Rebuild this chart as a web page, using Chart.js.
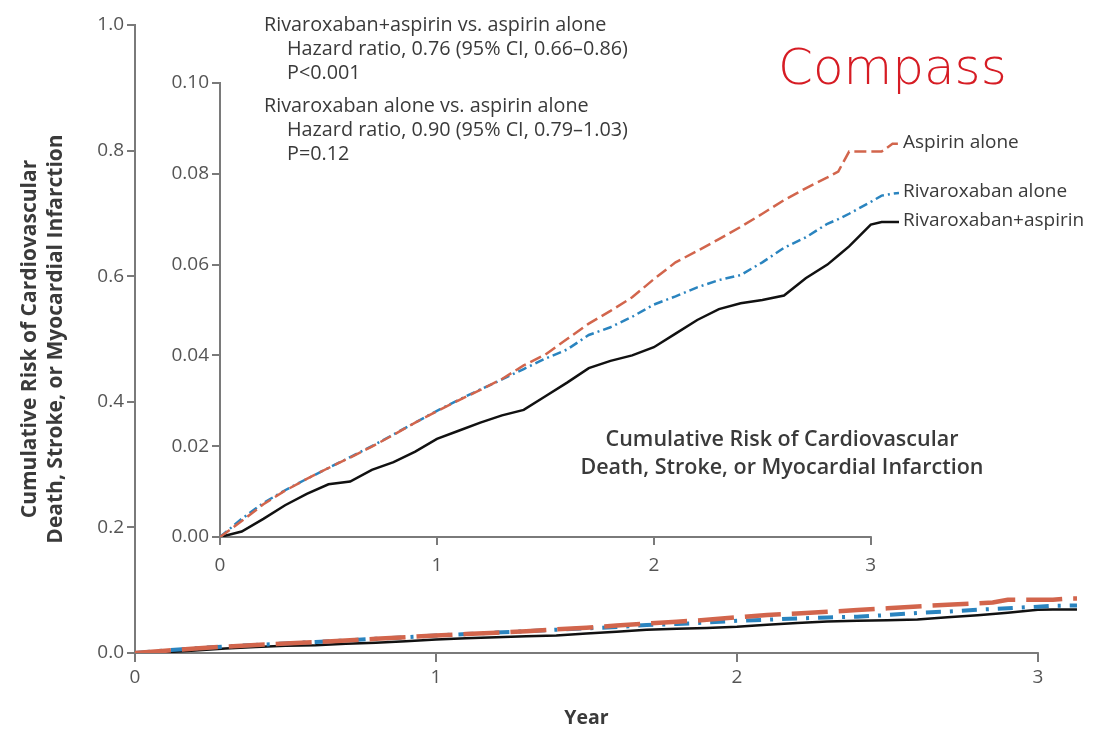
<!DOCTYPE html>
<html>
<head>
<meta charset="utf-8">
<script src="https://cdn.jsdelivr.net/npm/chart.js@4.4.0/dist/chart.umd.min.js"></script>
<style>
  html, body { margin: 0; padding: 0; background: #fff; }
  #wrap { position: relative; width: 1094px; height: 732px; }
  canvas { position: absolute; }
  #outer { left: 0; top: 0; }
  #inset { left: 140px; top: 60px; }
</style>
</head>
<body>
<div id="wrap">
  <canvas id="outer" width="1094" height="732"></canvas>
  <canvas id="inset" width="954" height="520"></canvas>
</div>
<script>
// Data (years since randomization, cumulative risk)
const years = [0, 0.1, 0.2, 0.3, 0.4, 0.5, 0.6, 0.7, 0.8, 0.9, 1.0, 1.1, 1.2, 1.3, 1.4, 1.5, 1.6, 1.7,
  1.8, 1.9, 2.0, 2.1, 2.2, 2.3, 2.4, 2.5, 2.6, 2.7, 2.8, 2.85, 2.9, 3.0, 3.05, 3.1, 3.13];
const aspirinAlone = [0, 0.0035, 0.0072, 0.0102, 0.0128, 0.0152, 0.0175, 0.0199, 0.0225, 0.0252,
  0.0277, 0.0301, 0.0324, 0.0348, 0.0378, 0.0402, 0.0436, 0.0470, 0.0498, 0.0528, 0.0568, 0.0605,
  0.0630, 0.0656, 0.0683, 0.0712, 0.0742, 0.0768, 0.0792, 0.0805, 0.0849, 0.0849, 0.0849, 0.0866, 0.0866];
const rivaroxabanAlone = [0, 0.0040, 0.0075, 0.0103, 0.0128, 0.0152, 0.0176, 0.0200, 0.0226, 0.0252,
  0.0278, 0.0302, 0.0325, 0.0347, 0.0370, 0.0393, 0.0413, 0.0445, 0.0462, 0.0485, 0.0512, 0.0530,
  0.0550, 0.0566, 0.0577, 0.0605, 0.0637, 0.0660, 0.0690, 0.0700, 0.0712, 0.0738, 0.0752, 0.0756, 0.0758];
const rivaroxabanAspirin = [0, 0.0012, 0.0040, 0.0070, 0.0095, 0.0116, 0.0122, 0.0148, 0.0165, 0.0188,
  0.0216, 0.0234, 0.0252, 0.0268, 0.0280, 0.0310, 0.0340, 0.0372, 0.0388, 0.0400, 0.0418, 0.0448,
  0.0478, 0.0502, 0.0515, 0.0522, 0.0532, 0.0570, 0.0600, 0.0620, 0.0640, 0.0688, 0.0694, 0.0694, 0.0694];
const seriesLabels = ["Aspirin alone", "Rivaroxaban alone", "Rivaroxaban+aspirin"];
const outerYTicks = [0, 0.2, 0.4, 0.6, 0.8, 1.0];
const insetYTicks = [0, 0.02, 0.04, 0.06, 0.08, 0.10];
const yearTicks = [0, 1, 2, 3];
const hrText = [
  "Rivaroxaban+aspirin vs. aspirin alone",
  "Hazard ratio, 0.76 (95% CI, 0.66\u20130.86)",
  "P<0.001",
  "Rivaroxaban alone vs. aspirin alone",
  "Hazard ratio, 0.90 (95% CI, 0.79\u20131.03)",
  "P=0.12"
];
const yTitle = ["Cumulative Risk of Cardiovascular", "Death, Stroke, or Myocardial Infarction"];

// Styles
const FONT = "'Open Sans', Lato, sans-serif";
const RED = "#d2654c";
const BLUE = "#2a84bf";
const BLACK = "#111111";
const AXIS = "#7a7a7a";
const TICK = "#555555";
const TEXT = "#3a3a3a";

function points(vals) {
  return years.map((x, i) => ({ x: x, y: vals[i] }));
}

function makeDatasets(widths, dashes) {
  const vals = [aspirinAlone, rivaroxabanAlone, rivaroxabanAspirin];
  const colors = [RED, BLUE, BLACK];
  return vals.map((v, i) => ({
    label: seriesLabels[i],
    data: points(v),
    borderColor: colors[i],
    borderWidth: widths[i],
    borderDash: dashes[i],
    pointRadius: 0,
    fill: false,
    tension: 0,
  }));
}

// draws the x axis line only from 0 to 3 years
function drawXAxisLine(chart) {
  const ctx = chart.ctx;
  const xs = chart.scales.x;
  const y = chart.chartArea.bottom;
  ctx.save();
  ctx.strokeStyle = AXIS;
  ctx.lineWidth = 2;
  ctx.beginPath();
  ctx.moveTo(xs.getPixelForValue(0) - 1, y);
  ctx.lineTo(xs.getPixelForValue(3) + 1, y);
  ctx.stroke();
  ctx.restore();
}

const outerDecor = {
  id: "outerDecor",
  beforeDatasetsDraw(chart) {
    drawXAxisLine(chart);
  },
  afterDraw(chart) {
    const ctx = chart.ctx;
    const xs = chart.scales.x;
    ctx.save();
    // x axis title
    ctx.fillStyle = TEXT;
    ctx.font = "bold 19.5px " + FONT;
    ctx.textAlign = "center";
    ctx.textBaseline = "middle";
    ctx.fillText("Year", (xs.getPixelForValue(0) + xs.getPixelForValue(3)) / 2, 718);
    // hazard ratio block
    ctx.font = "19.8px " + FONT;
    ctx.textAlign = "left";
    const lineY = [25, 49, 73, 106, 130, 154];
    hrText.forEach((t, i) => {
      const indent = (i === 0 || i === 3) ? 264 : 287;
      ctx.fillText(t, indent, lineY[i]);
    });
    // slide title
    ctx.fillStyle = "#d61c24";
    ctx.font = "200 50px 'DejaVu Sans', " + FONT;
    ctx.textBaseline = "alphabetic";
    ctx.fillText("Compass", 778, 84);
    ctx.restore();
  }
};

new Chart(document.getElementById("outer"), {
  type: "line",
  data: { datasets: makeDatasets([4.5, 4, 2.5], [[36, 11], [15, 9, 3, 9], []]) },
  options: {
    responsive: false,
    animation: false,
    layout: { padding: { top: 25, right: 11, left: 0, bottom: 0 } },
    plugins: { legend: { display: false }, tooltip: { enabled: false } },
    scales: {
      x: {
        type: "linear",
        min: 0,
        max: 3.15,
        afterFit: (s) => { s.height = 79; },
        afterBuildTicks: (s) => { s.ticks = yearTicks.map((v) => ({ value: v })); },
        border: { display: false },
        grid: { drawOnChartArea: false, tickLength: 9, color: AXIS, lineWidth: 2 },
        ticks: { padding: 4, color: TICK, font: { family: FONT, size: 19 } },
      },
      y: {
        min: 0,
        max: 1,
        afterFit: (s) => { s.width = 135; },
        afterBuildTicks: (s) => { s.ticks = outerYTicks.map((v) => ({ value: v })); },
        border: { color: AXIS, width: 2 },
        grid: { drawOnChartArea: false, tickLength: 8, color: AXIS, lineWidth: 2 },
        ticks: {
          padding: 3,
          color: TICK,
          font: { family: FONT, size: 19 },
          callback: (v) => v.toFixed(1),
        },
        title: {
          display: true,
          text: yTitle,
          color: TEXT,
          font: { family: FONT, size: 21, weight: "bold", lineHeight: 1.25 },
          padding: { top: 17, bottom: 0 },
        },
      },
    },
  },
  plugins: [outerDecor],
});

const insetDecor = {
  id: "insetDecor",
  beforeDatasetsDraw(chart) {
    drawXAxisLine(chart);
  },
  afterDraw(chart) {
    const ctx = chart.ctx;
    ctx.save();
    ctx.fillStyle = TEXT;
    ctx.textBaseline = "middle";
    // curve labels at the end of each line
    ctx.font = "19px " + FONT;
    ctx.textAlign = "left";
    chart.data.datasets.forEach((ds, i) => {
      const pts = chart.getDatasetMeta(i).data;
      const last = pts[pts.length - 1];
      ctx.fillText(ds.label, last.x + 4, last.y - 1);
    });
    // inset title
    ctx.font = "600 21.5px " + FONT;
    ctx.textAlign = "center";
    ctx.fillText(yTitle[0], 642, 380);
    ctx.fillText(yTitle[1], 642, 408);
    ctx.restore();
  }
};

new Chart(document.getElementById("inset"), {
  type: "line",
  data: { datasets: makeDatasets([2.5, 2.5, 2.5], [[12, 5], [9, 4, 2, 4], []]) },
  options: {
    responsive: false,
    animation: false,
    layout: { padding: { top: 23, right: 195, left: 0, bottom: 0 } },
    plugins: { legend: { display: false }, tooltip: { enabled: false } },
    scales: {
      x: {
        type: "linear",
        min: 0,
        max: 3.13,
        afterFit: (s) => { s.height = 43; },
        afterBuildTicks: (s) => { s.ticks = yearTicks.map((v) => ({ value: v })); },
        border: { display: false },
        grid: { drawOnChartArea: false, tickLength: 8, color: AXIS, lineWidth: 2 },
        ticks: { padding: 9, color: TICK, font: { family: FONT, size: 19 } },
      },
      y: {
        min: 0,
        max: 0.1,
        afterFit: (s) => { s.width = 80; },
        afterBuildTicks: (s) => { s.ticks = insetYTicks.map((v) => ({ value: v })); },
        border: { color: AXIS, width: 2 },
        grid: { drawOnChartArea: false, tickLength: 8, color: AXIS, lineWidth: 2 },
        ticks: {
          padding: 3,
          color: TICK,
          font: { family: FONT, size: 19 },
          callback: (v) => v.toFixed(2),
        },
      },
    },
  },
  plugins: [insetDecor],
});
</script>
</body>
</html>
